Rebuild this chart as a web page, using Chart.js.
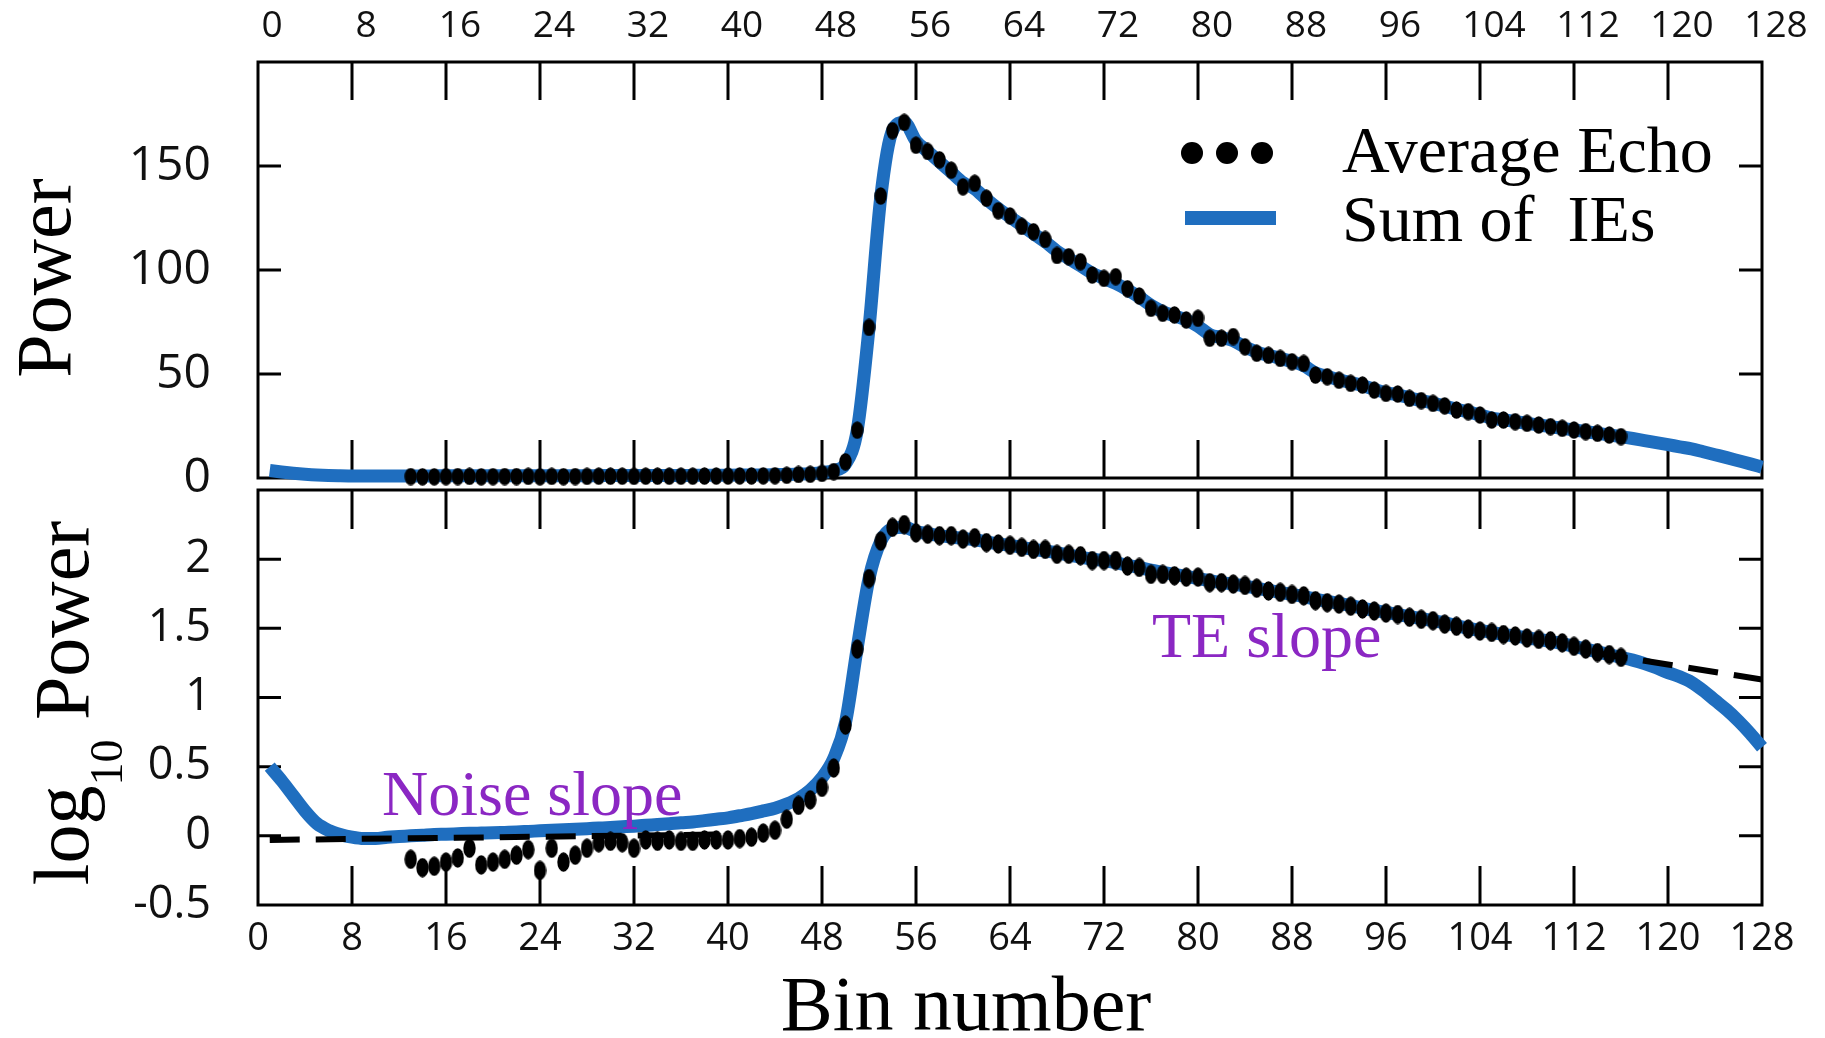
<!DOCTYPE html>
<html>
<head>
<meta charset="utf-8">
<title>Average Echo vs Sum of IEs</title>
<script src="https://cdn.jsdelivr.net/npm/chart.js@4.4.1/dist/chart.umd.min.js"></script>
<style>
  html, body { margin: 0; padding: 0; background: #fff; }
  #wrap { position: relative; width: 1825px; height: 1038px; }
  #wrap canvas { position: absolute; left: 0; top: 0; }
</style>
</head>
<body>
<div id="wrap">
  <canvas id="logChart" width="1825" height="1038"></canvas>
  <canvas id="powerChart" width="1825" height="1038"></canvas>
</div>
<script>
// tick values
const binTicks = [0, 8, 16, 24, 32, 40, 48, 56, 64, 72, 80, 88, 96, 104, 112, 120, 128];
const powerTicks = [0, 50, 100, 150, 200];
const logTicks = [-0.5, 0, 0.5, 1, 1.5, 2, 2.5];

// first bin of each series (one value per bin after that)
const echoFirstBin = 13;
const sumFirstBin = 1;

// Average Echo, bins 13..116
const echoPower = [
  0.7, 0.6, 0.6, 0.65, 0.7, 0.8, 0.6, 0.65, 0.7, 0.7, 0.8, 0.6, 0.8, 0.65, 0.7, 0.8,
  0.9, 0.9, 0.9, 0.8, 0.9, 0.9, 0.9, 0.9, 0.9, 0.95, 0.95, 0.95, 1.0, 1.0, 1.05, 1.1,
  1.3, 1.7, 1.8, 2.2, 3.1, 7.8, 23, 72.4, 135.6, 167, 171, 160, 157, 153, 148, 140,
  141.7, 134.5, 128.5, 126, 121, 118.4, 114.7, 107, 106.4, 104, 97.6, 96, 96.8, 91, 87.5, 81.6,
  79.2, 78.4, 76, 76.8, 67.2, 67.2, 68, 63.1, 60, 59, 57.5, 55.9, 55.1, 49.5, 48.7, 47,
  45.5, 44.7, 42.3, 40.7, 40.4, 38.3, 37.2, 35.9, 34.7, 32.7, 31.9, 30.3, 27.9, 27.9, 27.1, 26.3,
  25.5, 24.7, 23.9, 23.1, 22.3, 21.5, 20.7, 19.9
];
const echoLog = [
  -0.17, -0.23, -0.22, -0.19, -0.16, -0.09, -0.21, -0.19, -0.17, -0.14, -0.10, -0.25, -0.09, -0.19, -0.14, -0.09,
  -0.05, -0.04, -0.05, -0.09, -0.03, -0.04, -0.03, -0.04, -0.04, -0.03, -0.03, -0.03, -0.02, -0.01, 0.02, 0.04,
  0.12, 0.22, 0.26, 0.35, 0.49, 0.80, 1.35, 1.86, 2.13, 2.23, 2.25, 2.19, 2.18, 2.17, 2.17, 2.145,
  2.155, 2.12, 2.11, 2.10, 2.085, 2.07, 2.07, 2.035, 2.035, 2.025, 1.99, 1.99, 1.99, 1.95, 1.94, 1.89,
  1.89, 1.88, 1.87, 1.87, 1.83, 1.83, 1.82, 1.81, 1.79, 1.77, 1.76, 1.745, 1.735, 1.70, 1.685, 1.675,
  1.66, 1.64, 1.625, 1.61, 1.60, 1.58, 1.565, 1.555, 1.53, 1.515, 1.495, 1.48, 1.47, 1.455, 1.445, 1.43,
  1.42, 1.41, 1.395, 1.37, 1.35, 1.325, 1.31, 1.29
];

// Sum of IEs, bins 1..128
const sumPower = [
  3.6, 2.9, 2.3, 1.8, 1.4, 1.15, 1.05, 1.0, 0.95, 0.95, 0.97, 0.99, 1.0, 1.0, 1.02, 1.03,
  1.03, 1.04, 1.05, 1.05, 1.06, 1.07, 1.08, 1.09, 1.1, 1.11, 1.12, 1.13, 1.14, 1.15, 1.16, 1.17,
  1.19, 1.21, 1.22, 1.24, 1.26, 1.29, 1.32, 1.35, 1.4, 1.45, 1.5, 1.6, 1.7, 1.9, 2.1, 2.6,
  3.6, 6.8, 23, 72, 135, 167, 171, 162, 157, 152, 147, 142, 139, 134, 129.5, 125.5,
  121.5, 117.5, 113.5, 109, 105.5, 102, 98.5, 96, 93.5, 90.5, 87, 83, 80, 78, 76, 73,
  69, 67.5, 66, 63, 60.5, 59, 57.5, 56, 54, 50.5, 48.8, 47.2, 45.8, 44.5, 42.6, 41,
  40, 38.5, 37.2, 36, 34.6, 33, 31.8, 30.3, 28.8, 28, 27.1, 26.3, 25.5, 24.7, 23.9, 23.1,
  22.3, 21.5, 20.7, 19.9, 19.0, 18.0, 17.0, 16.0, 15.0, 14.0, 12.6, 11.2, 9.8, 8.3, 6.8, 5.2
];
const sumLog = [
  0.50, 0.40, 0.29, 0.18, 0.09, 0.04, 0.01, -0.01, -0.02, -0.02, -0.01, -0.005, 0.0, 0.005, 0.01, 0.012,
  0.015, 0.018, 0.02, 0.022, 0.025, 0.028, 0.032, 0.036, 0.04, 0.044, 0.048, 0.052, 0.056, 0.06, 0.065, 0.07,
  0.076, 0.082, 0.088, 0.095, 0.10, 0.11, 0.12, 0.13, 0.145, 0.16, 0.18, 0.20, 0.23, 0.27, 0.33, 0.42,
  0.56, 0.82, 1.36, 1.86, 2.13, 2.22, 2.23, 2.20, 2.185, 2.17, 2.16, 2.15, 2.14, 2.125, 2.11, 2.10,
  2.085, 2.07, 2.06, 2.045, 2.03, 2.015, 2.0, 1.99, 1.975, 1.955, 1.94, 1.92, 1.905, 1.89, 1.875, 1.86,
  1.845, 1.83, 1.82, 1.805, 1.79, 1.775, 1.76, 1.745, 1.73, 1.71, 1.695, 1.68, 1.665, 1.645, 1.63, 1.615,
  1.60, 1.585, 1.57, 1.555, 1.54, 1.52, 1.50, 1.485, 1.47, 1.455, 1.445, 1.43, 1.42, 1.405, 1.39, 1.37,
  1.35, 1.33, 1.31, 1.29, 1.27, 1.245, 1.215, 1.18, 1.15, 1.11, 1.05, 0.98, 0.91, 0.83, 0.74, 0.64
];

// fitted slopes (end points)
const noiseSlopeBins = [1, 40];
const noiseSlopeLog = [-0.03, 0.01];
const teSlopeBins = [114, 128];
const teSlopeLog = [1.32, 1.13];

const BLUE = '#1f6ebf';
const PURPLE = '#8b27c3';
const SERIF = '"Liberation Serif", "Times New Roman", serif';
const SANS = '"Open Sans", "DejaVu Sans", sans-serif';

const toPoints = (first, values) => values.map((v, i) => ({ x: first + i, y: v }));
const pairPoints = (xs, ys) => xs.map((x, i) => ({ x: x, y: ys[i] }));

// slightly tall dot marker like the original scatter points
function ellipseDot(w, h) {
  const c = document.createElement('canvas');
  c.width = w;
  c.height = h;
  const g = c.getContext('2d');
  g.fillStyle = '#000';
  g.beginPath();
  g.ellipse(w / 2, h / 2, w / 2 - 0.3, h / 2 - 0.3, 0, 0, Math.PI * 2);
  g.fill();
  return c;
}

// box around the plot with inward ticks on all four sides
function framePlugin(yVals, xLen, yLen) {
  return {
    id: 'frame',
    beforeDatasetsDraw(chart) {
      const { ctx, chartArea: a, scales } = chart;
      ctx.save();
      ctx.strokeStyle = '#000';
      ctx.lineWidth = 3;
      ctx.strokeRect(a.left, a.top, a.width, a.height);
      ctx.beginPath();
      binTicks.slice(1, -1).forEach(v => {
        const px = scales.x.getPixelForValue(v);
        ctx.moveTo(px, a.top); ctx.lineTo(px, a.top + xLen);
        ctx.moveTo(px, a.bottom); ctx.lineTo(px, a.bottom - xLen);
      });
      yVals.slice(1, -1).forEach(v => {
        const py = scales.y.getPixelForValue(v);
        ctx.moveTo(a.left, py); ctx.lineTo(a.left + yLen, py);
        ctx.moveTo(a.right, py); ctx.lineTo(a.right - yLen, py);
      });
      ctx.stroke();
      ctx.restore();
    }
  };
}

const powerText = {
  id: 'powerText',
  afterDraw(chart) {
    const ctx = chart.ctx;
    ctx.save();
    ctx.fillStyle = '#000';
    // y title
    ctx.translate(70, 278);
    ctx.rotate(-Math.PI / 2);
    ctx.font = '78px ' + SERIF;
    ctx.textAlign = 'center';
    ctx.textBaseline = 'alphabetic';
    ctx.fillText('Power', 0, 0);
    ctx.restore();

    // legend
    ctx.save();
    ctx.fillStyle = '#000';
    [1192, 1227, 1262].forEach(x => {
      ctx.beginPath();
      ctx.arc(x, 153, 11, 0, Math.PI * 2);
      ctx.fill();
    });
    ctx.fillStyle = BLUE;
    ctx.fillRect(1185, 211, 91, 14);
    ctx.fillStyle = '#000';
    ctx.font = '66px ' + SERIF;
    ctx.textAlign = 'left';
    ctx.textBaseline = 'alphabetic';
    ctx.fillText('Average Echo', 1342, 172);
    ctx.fillText('Sum of  IEs', 1342, 241);
    ctx.restore();
  }
};

const logText = {
  id: 'logText',
  afterDraw(chart) {
    const ctx = chart.ctx;
    // y title with subscript
    ctx.save();
    ctx.fillStyle = '#000';
    ctx.translate(88, 703);
    ctx.rotate(-Math.PI / 2);
    ctx.textAlign = 'left';
    ctx.textBaseline = 'alphabetic';
    const big = '78px ' + SERIF, small = '46px ' + SERIF;
    ctx.font = big;
    const w1 = ctx.measureText('log').width;
    const w3 = ctx.measureText(' Power').width;
    ctx.font = small;
    const w2 = ctx.measureText('10').width;
    const x0 = -(w1 + w2 + w3) / 2;
    ctx.font = big;
    ctx.fillText('log', x0, 0);
    ctx.font = small;
    ctx.fillText('10', x0 + w1, 34);
    ctx.font = big;
    ctx.fillText(' Power', x0 + w1 + w2, 0);
    ctx.restore();

    ctx.save();
    ctx.fillStyle = '#000';
    ctx.font = '78px ' + SERIF;
    ctx.textAlign = 'center';
    ctx.textBaseline = 'alphabetic';
    ctx.fillText('Bin number', 966, 1030);
    // annotations
    ctx.fillStyle = PURPLE;
    ctx.font = '64px ' + SERIF;
    ctx.textAlign = 'left';
    ctx.fillText('Noise slope', 382, 815);
    ctx.fillText('TE slope', 1152, 657);
    ctx.restore();
  }
};

function xScale(position, padding, offset, size) {
  return {
    type: 'linear',
    position: position,
    min: 0,
    max: 128,
    afterBuildTicks: s => { s.ticks = binTicks.map(v => ({ value: v })); },
    afterFit: s => {
      s.height = position === 'top' ? 62 : 133;
      s.paddingLeft = 0;
      s.paddingRight = 0;
    },
    grid: { display: false, drawTicks: false },
    border: { display: false },
    ticks: {
      autoSkip: false,
      maxRotation: 0,
      padding: padding,
      labelOffset: offset,
      color: '#111',
      font: { family: SANS, size: size },
      callback: v => String(v)
    }
  };
}

function yScale(ticks, size) {
  const top = ticks[ticks.length - 1];
  return {
    type: 'linear',
    min: ticks[0],
    max: top,
    afterBuildTicks: s => { s.ticks = ticks.map(v => ({ value: v })); },
    afterFit: s => {
      s.width = 258;
      s.paddingTop = 0;
      s.paddingBottom = 0;
    },
    grid: { display: false, drawTicks: false },
    border: { display: false },
    ticks: {
      padding: 47,
      color: '#111',
      font: { family: SANS, size: size },
      callback: v => (v === top ? '' : String(v))
    }
  };
}

const common = {
  responsive: false,
  animation: false,
  events: [],
  plugins: { legend: { display: false }, tooltip: { enabled: false } }
};

new Chart(document.getElementById('powerChart'), {
  type: 'line',
  data: {
    datasets: [
      {
        label: 'Average Echo',
        data: toPoints(echoFirstBin, echoPower),
        showLine: false,
        pointStyle: ellipseDot(13, 18),
        pointRadius: 6,
        clip: false,
        order: 0
      },
      {
        label: 'Sum of IEs',
        data: toPoints(sumFirstBin, sumPower),
        borderColor: BLUE,
        borderWidth: 13,
        borderJoinStyle: 'round',
        pointRadius: 0,
        cubicInterpolationMode: 'monotone',
        clip: false,
        order: 1
      }
    ]
  },
  options: Object.assign({}, common, {
    layout: { padding: { left: 0, right: 63, top: 0, bottom: 560 } },
    scales: {
      x: xScale('top', 13, 14, 37),
      y: yScale(powerTicks, 48)
    }
  }),
  plugins: [framePlugin(powerTicks, 38, 23), powerText]
});

new Chart(document.getElementById('logChart'), {
  type: 'line',
  data: {
    datasets: [
      {
        label: 'Average Echo',
        data: toPoints(echoFirstBin, echoLog),
        showLine: false,
        pointStyle: ellipseDot(13, 20),
        pointRadius: 6,
        clip: false,
        order: 0
      },
      {
        label: 'Noise slope',
        data: pairPoints(noiseSlopeBins, noiseSlopeLog),
        borderColor: '#000',
        borderWidth: 6,
        borderDash: [30, 16],
        pointRadius: 0,
        order: 1
      },
      {
        label: 'TE slope',
        data: pairPoints(teSlopeBins, teSlopeLog),
        borderColor: '#000',
        borderWidth: 6,
        borderDash: [30, 16],
        pointRadius: 0,
        order: 1
      },
      {
        label: 'Sum of IEs',
        data: toPoints(sumFirstBin, sumLog),
        borderColor: BLUE,
        borderWidth: 13,
        borderJoinStyle: 'round',
        pointRadius: 0,
        cubicInterpolationMode: 'monotone',
        clip: false,
        order: 2
      }
    ]
  },
  options: Object.assign({}, common, {
    layout: { padding: { left: 0, right: 63, top: 490, bottom: 0 } },
    scales: {
      x: xScale('bottom', 11, 0, 38),
      y: yScale(logTicks, 45)
    }
  }),
  plugins: [framePlugin(logTicks, 39, 23), logText]
});
</script>
</body>
</html>
